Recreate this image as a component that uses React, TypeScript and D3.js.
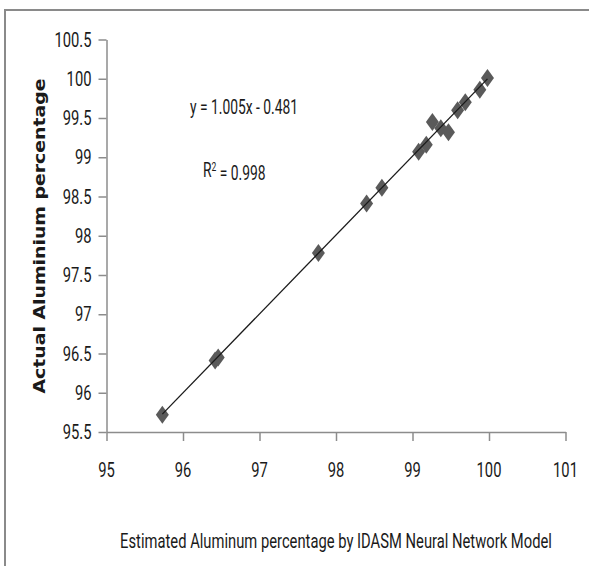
import { useEffect, useRef } from 'react'
import * as d3 from 'd3'

// estimated (x) vs actual (y) aluminium percentage
const estimated = [95.73, 96.42, 96.46, 97.77, 98.40, 98.60, 99.08, 99.18, 99.26, 99.37, 99.47, 99.59, 99.69, 99.88, 99.98]
const actual = [95.72, 96.41, 96.45, 97.78, 98.41, 98.61, 99.07, 99.16, 99.45, 99.37, 99.32, 99.60, 99.70, 99.86, 100.01]

const xTicks = [95, 96, 97, 98, 99, 100, 101]
const yTicks = [95.5, 96, 96.5, 97, 97.5, 98, 98.5, 99, 99.5, 100, 100.5]

const slope = 1.005
const intercept = -0.481

const W = 589
const H = 566

export default function App() {
    const svgRef = useRef<SVGSVGElement>(null)

    useEffect(() => {
        document.body.style.margin = '0'
        const svg = d3.select(svgRef.current)
        svg.selectAll('*').remove()

        const margin = { top: 39.5, right: 23.5, bottom: 134, left: 106.5 }
        const x = d3.scaleLinear().domain([95, 101]).range([margin.left, W - margin.right])
        const y = d3.scaleLinear().domain([95.5, 100.5]).range([H - margin.bottom, margin.top])
        const font = 'Roboto, "Open Sans", Arial, sans-serif'

        // text squeezed horizontally around its anchor, to mimic the narrow tall look of the original
        const label = (px: number, py: number, txt: string, anchor: string, size: number, sx = 0.72) => {
            const g = svg.append('g').attr('transform', `translate(${px},${py}) scale(${sx},1)`)
            return g.append('text')
                .attr('text-anchor', anchor)
                .attr('dy', '0.35em')
                .attr('fill', '#1a1a1a')
                .style('font-family', font)
                .style('font-size', `${size}px`)
                .text(txt)
        }

        // outer frame (top + left edges visible)
        svg.append('path')
            .attr('d', `M5,${H} L5,10 L${W},10`)
            .attr('fill', 'none')
            .attr('stroke', '#8a8a8a')
            .attr('stroke-width', 2)

        // x axis
        const xAxis = svg.append('g')
            .attr('transform', `translate(0,${y(95.5)})`)
            .call(d3.axisBottom(x).tickValues(xTicks).tickSize(9).tickSizeOuter(0).tickFormat(() => ''))
        xAxis.selectAll('path, line').attr('stroke', '#8c8c8c').attr('stroke-width', 1.5)
        xTicks.forEach(t => label(x(t), 470, String(t), 'middle', 20.5))

        // y axis
        const yAxis = svg.append('g')
            .attr('transform', `translate(${x(95)},0)`)
            .call(d3.axisLeft(y).tickValues(yTicks).tickSize(8).tickSizeOuter(0).tickFormat(() => ''))
        yAxis.selectAll('path, line').attr('stroke', '#8c8c8c').attr('stroke-width', 1.5)
        yTicks.forEach(t => label(x(95) - 15, y(t), String(t), 'end', 20.5))

        // trend line endpoints
        const xMin = d3.min(estimated) as number
        const xMax = d3.max(estimated) as number

        // diamond markers
        const pts = estimated.map((v, i) => ({ x: v, y: actual[i] }))
        const hw = 6.5, hh = 9
        svg.append('g')
            .selectAll('path')
            .data(pts)
            .enter().append('path')
            .attr('d', d => {
                const cx = x(d.x), cy = y(d.y)
                return `M${cx},${cy - hh} L${cx + hw},${cy} L${cx},${cy + hh} L${cx - hw},${cy} Z`
            })
            .attr('fill', '#5a5a5a')

        svg.append('line')
            .attr('x1', x(xMin)).attr('y1', y(slope * xMin + intercept))
            .attr('x2', x(xMax)).attr('y2', y(slope * xMax + intercept))
            .attr('stroke', '#1a1a1a')
            .attr('stroke-width', 1.3)

        // equation + R²
        label(190, 107, `y = ${slope.toFixed(3)}x - ${Math.abs(intercept).toFixed(3)}`, 'start', 19.5, 0.71)
        const r2 = label(203, 170, 'R', 'start', 19.5, 0.71)
        r2.append('tspan').attr('dy', '-0.45em').style('font-size', '12px').text('2')
        r2.append('tspan').attr('dy', '0.45em').text(' = 0.998')

        // axis titles
        label((x(95) + x(101)) / 2, 541, 'Estimated Aluminum percentage by IDASM Neural Network Model', 'middle', 20.5, 0.72)

        svg.append('text')
            .attr('transform', `translate(39,236) rotate(-90)`)
            .attr('dy', '0.35em')
            .attr('text-anchor', 'middle')
            .attr('textLength', 315).attr('lengthAdjust', 'spacingAndGlyphs')
            .style('font-family', '"DejaVu Sans", Arial, sans-serif').style('font-size', '16px')
            .style('font-weight', 'bold').attr('fill', '#1a1a1a')
            .text('Actual Aluminium percentage')
    }, [])

    return (
        <svg ref={svgRef} width={W} height={H} style={{ display: 'block', background: '#fff' }} />
    )
}
